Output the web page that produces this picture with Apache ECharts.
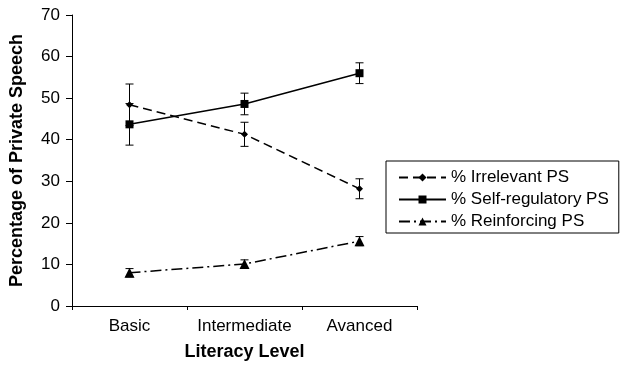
<!DOCTYPE html>
<html><head><meta charset="utf-8">
<script src="https://cdn.jsdelivr.net/npm/echarts@6/dist/echarts.min.js"></script>
<style>html,body{margin:0;padding:0;background:#fff}#c{width:625px;height:366px}</style>
</head><body><div id="c"></div>
<script>
var categories = ['Basic', 'Intermediate', 'Avanced'];
var irrelevant = [48.4, 41.3, 28.2];
var irrelevantErr = [5.0, 2.9, 2.4];
var selfReg = [43.7, 48.6, 56.0];
var selfRegErr = [5.0, 2.6, 2.5];
var reinforcing = [8.0, 10.1, 15.6];
var reinforcingErr = [1.0, 1.0, 1.1];
var yTicks = [0, 10, 20, 30, 40, 50, 60, 70];

var FONT = '"Liberation Sans", Arial, sans-serif';

function errData(vals, errs) {
  return vals.map(function (v, i) { return [i, v - errs[i], v + errs[i]]; });
}
function errSeries(vals, errs) {
  return {
    type: 'custom',
    silent: true,
    z: 3,
    data: errData(vals, errs),
    encode: { x: 0, y: [1, 2] },
    renderItem: function (params, api) {
      var x = api.value(0);
      var lo = api.coord([x, api.value(1)]);
      var hi = api.coord([x, api.value(2)]);
      var w = 4;
      var st = { stroke: '#000', lineWidth: 1 };
      return {
        type: 'group',
        children: [
          { type: 'line', shape: { x1: lo[0], y1: lo[1], x2: hi[0], y2: hi[1] }, style: st },
          { type: 'line', shape: { x1: lo[0] - w, y1: lo[1], x2: lo[0] + w, y2: lo[1] }, style: st },
          { type: 'line', shape: { x1: hi[0] - w, y1: hi[1], x2: hi[0] + w, y2: hi[1] }, style: st }
        ]
      };
    }
  };
}

var chart = echarts.init(document.getElementById('c'), null, { renderer: 'canvas' });
chart.setOption({
  animation: false,
  backgroundColor: '#fff',
  textStyle: { fontFamily: FONT, color: '#000' },
  grid: { left: 71, right: 208, top: 15, bottom: 60 },
  xAxis: {
    type: 'category',
    data: categories,
    boundaryGap: true,
    name: 'Literacy Level',
    nameLocation: 'middle',
    nameGap: 37,
    nameTextStyle: { fontFamily: FONT, fontSize: 18, fontWeight: 'bold', color: '#000' },
    axisLine: { lineStyle: { color: '#000', width: 1 } },
    axisTick: { show: true, length: 4, lineStyle: { color: '#000' } },
    axisLabel: { fontFamily: FONT, fontSize: 17, color: '#000', margin: 12, interval: 0, hideOverlap: false }
  },
  yAxis: {
    type: 'value',
    min: yTicks[0],
    max: yTicks[yTicks.length - 1],
    interval: 10,
    name: 'Percentage of Private Speech',
    nameLocation: 'middle',
    nameGap: 46,
    nameTextStyle: { fontFamily: FONT, fontSize: 18, fontWeight: 'bold', color: '#000' },
    splitLine: { show: false },
    axisLine: { show: true, lineStyle: { color: '#000', width: 1 } },
    axisTick: { show: true, length: 6, lineStyle: { color: '#000' } },
    axisLabel: { fontFamily: FONT, fontSize: 17, color: '#000', margin: 12 }
  },
  legend: {
    orient: 'vertical',
    left: 386,
    top: 161,
    padding: [8, 10, 3, 12],
    itemWidth: 47,
    itemHeight: 10,
    itemGap: 5,
    borderColor: '#000',
    borderWidth: 1,
    backgroundColor: '#fff',
    z: 10,
    textStyle: { fontFamily: FONT, fontSize: 17, color: '#000' },
    data: ['% Irrelevant PS', '% Self-regulatory PS', '% Reinforcing PS']
  },
  series: [
    {
      name: '% Irrelevant PS', type: 'line', data: irrelevant, z: 4,
      symbol: 'diamond', symbolSize: 7,
      itemStyle: { color: '#000' },
      lineStyle: { color: '#000', width: 1.5, type: [9, 5] }
    },
    {
      name: '% Self-regulatory PS', type: 'line', data: selfReg, z: 4,
      symbol: 'rect', symbolSize: 8,
      itemStyle: { color: '#000' },
      lineStyle: { color: '#000', width: 1.5, type: 'solid' }
    },
    {
      name: '% Reinforcing PS', type: 'line', data: reinforcing, z: 4,
      symbol: 'triangle', symbolSize: 10,
      itemStyle: { color: '#000' },
      lineStyle: { color: '#000', width: 1.5, type: [11, 4, 2, 4] }
    },
    errSeries(irrelevant, irrelevantErr),
    errSeries(selfReg, selfRegErr),
    errSeries(reinforcing, reinforcingErr)
  ]
});
</script>
</body></html>
